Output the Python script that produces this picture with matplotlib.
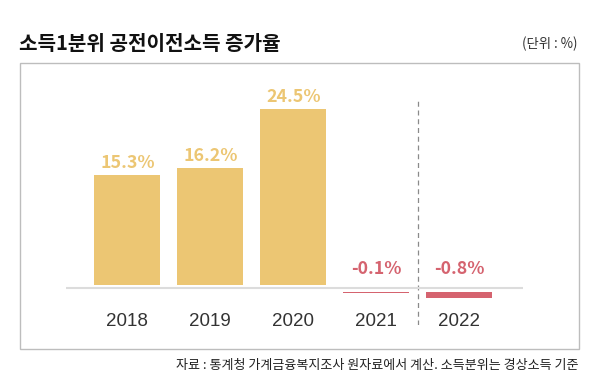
import matplotlib
matplotlib.use("Agg")
import matplotlib.pyplot as plt
from matplotlib.patches import Rectangle
from matplotlib import font_manager

years = ["2018", "2019", "2020", "2021", "2022"]
rates = [15.3, 16.2, 24.5, -0.1, -0.8]
title = "소득1분위 공전이전소득 증가율"
unit = "(단위 : %)"
source = "자료 : 통계청 가계금융복지조사 원자료에서 계산. 소득분위는 경상소득 기준"

gold = "#ecc673"
red = "#d5636f"
kr = ["Noto Sans CJK KR", "DejaVu Sans"]
plt.rcParams["font.family"] = kr

names = {f.name for f in font_manager.fontManager.ttflist}
narrow = "Liberation Sans Narrow" if "Liberation Sans Narrow" in names else "Liberation Sans"

fig = plt.figure(figsize=(6, 3.91), dpi=100)

# outer frame
fig.patches.append(Rectangle((20 / 600, 1 - 349 / 391), 559 / 600, 286 / 391,
                             transform=fig.transFigure, fill=False,
                             edgecolor="#bdbdbd", linewidth=1))

fig.text(19 / 600, 1 - 44 / 391, title, fontsize=14.5, fontweight="bold",
         color="#111111", ha="left", va="center")
fig.text(578 / 600, 1 - 44 / 391, unit, fontsize=9.6, color="#333333",
         ha="right", va="center")
fig.text(578 / 600, 1 - 366 / 391, source, fontsize=9.4, color="#222222",
         ha="right", va="center")

ax = fig.add_axes([66 / 600, 1 - 325 / 391, 457 / 600, 225 / 391])
gap = 0.49
x = list(range(len(years)))
colors = [gold if v > 0 else red for v in rates]
bottoms = [gap if v > 0 else -gap for v in rates]
ax.bar(x, rates, bottom=bottoms, width=0.795, color=colors, zorder=2)
ax.axhline(0, color="#dcdcdc", linewidth=1.5, zorder=3)
ax.axvline(3.5, color="#8a8a8a", linewidth=0.9, linestyle=(0, (4, 3)), zorder=1)

year_size = 15 if narrow == "Liberation Sans Narrow" else 13.5
for i, v in enumerate(rates):
    c = gold if v > 0 else red
    off = 5 if v > 0 else 8
    ax.annotate(f"{v}%", xy=(i, max(v, 0) + gap), xytext=(0, off),
                textcoords="offset points", ha="center", va="baseline",
                fontsize=12.8, fontweight="bold", color=c)
    ax.annotate(years[i], xy=(i, 0), xytext=(0, -27),
                textcoords="offset points", ha="center", va="baseline",
                fontsize=year_size, color="#333333", family=[narrow, "DejaVu Sans"])

ax.set_xlim(-0.74, 4.77)
ax.set_ylim(-5.07, 26.18)
ax.axis("off")

fig.savefig("out.png", dpi=100)
